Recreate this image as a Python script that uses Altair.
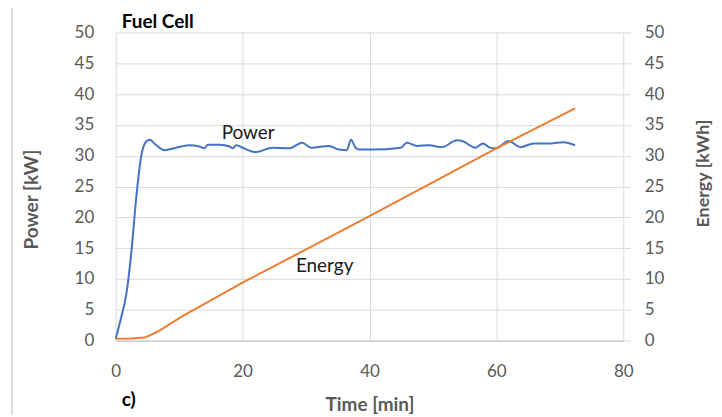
import altair as alt
import pandas as pd

# Power [kW] vs time [min]
power_t = [0, 0.8, 1.7, 2.5, 3.2, 4.0, 4.8, 5.4, 6.1, 7.7, 9.5, 11.6, 13.2, 14.0, 14.5,
           16.3, 18.0, 18.4, 19.0, 20.0, 22.1, 24.7, 27.3, 29.4, 30.8, 33.6, 35.2, 36.4,
           37.1, 37.8, 38.4, 40.4, 44.9, 45.9, 47.5, 49.4, 51.4, 53.8, 54.6, 56.7, 57.9,
           58.8, 59.9, 61.9, 63.8, 65.9, 68.5, 70.6, 72.4]
power_kw = [0.3, 3.5, 7.7, 14.7, 22.8, 29.8, 32.3, 32.6, 32.0, 30.9, 31.3, 31.7, 31.5, 31.2, 31.8,
            31.8, 31.5, 31.2, 31.7, 31.3, 30.6, 31.3, 31.2, 32.1, 31.3, 31.6, 31.0, 30.9,
            32.6, 31.3, 31.0, 31.0, 31.3, 32.1, 31.6, 31.7, 31.4, 32.5, 32.4, 31.3, 32.0,
            31.4, 31.2, 32.4, 31.4, 32.0, 32.0, 32.2, 31.7]

# Energy [kWh] vs time [min]
energy_t = [0, 2.5, 4.6, 6.5, 10.6, 20, 40, 60, 72.4]
energy_kwh = [0.3, 0.35, 0.5, 1.4, 4.0, 9.4, 20.2, 31.2, 37.7]

x_ticks = [0, 20, 40, 60, 80]
y_ticks = [0, 5, 10, 15, 20, 25, 30, 35, 40, 45, 50]

labels_text = ["Power", "Energy"]
labels_t = [16.7, 28.4]
labels_y = [32.7, 11.2]

pdf = pd.DataFrame({"t": power_t, "P": power_kw})
edf = pd.DataFrame({"t": energy_t, "E": energy_kwh})
ldf = pd.DataFrame({"s": labels_text, "t": labels_t, "y": labels_y})

FONT = "Lato"
GRAY = "#595959"
GRID = "#D9D9D9"

xscale = alt.Scale(domain=[0, 80], nice=False)
yscale = alt.Scale(domain=[0, 50], nice=False)

x_axis = alt.Axis(values=x_ticks, grid=True, gridColor=GRID, domainColor="#BFBFBF",
                  ticks=False, tickSize=0, labelFont=FONT, labelFontSize=17,
                  labelColor=GRAY, labelPadding=23, labelFlush=False,
                  labelOverlap=False, title="Time [min]",
                  titleFont=FONT, titleFontSize=19, titleFontWeight="bold",
                  titleColor=GRAY, titleY=70, titleBaseline="alphabetic")

left_axis = alt.Axis(values=y_ticks, grid=True, gridColor=GRID, domain=False,
                     ticks=False, tickSize=0, labelFont=FONT, labelFontSize=17,
                     labelColor=GRAY, labelPadding=22, labelFlush=False,
                     labelOverlap=False, labelBound=False, title="Power [kW]",
                     titleFont=FONT, titleFontSize=19, titleFontWeight="bold",
                     titleColor=GRAY, titleAngle=270, titleX=-84, titleY=167,
                     titleAlign="center", titleBaseline="middle")

right_axis = alt.Axis(values=y_ticks, orient="right", grid=False, domain=False,
                      ticks=True, tickSize=7, tickColor=GRID, labelFont=FONT,
                      labelFontSize=17, labelColor=GRAY, labelPadding=14,
                      labelFlush=False, labelOverlap=False,
                      title="Energy [kWh]", titleFont=FONT, titleFontSize=18,
                      titleFontWeight="bold", titleColor=GRAY, titleAngle=270,
                      titleX=80, titleY=141, titleAlign="center",
                      titleBaseline="middle")

power = alt.Chart(pdf).mark_line(color="#4472C4", strokeWidth=2,
                                 interpolate="monotone").encode(
    x=alt.X("t:Q", scale=xscale, axis=x_axis),
    y=alt.Y("P:Q", scale=yscale, axis=left_axis),
)

labels = alt.Chart(ldf).mark_text(font=FONT, fontSize=19, color="#1a1a1a",
                                  align="left", baseline="alphabetic").encode(
    x=alt.X("t:Q", scale=xscale, axis=x_axis),
    y=alt.Y("y:Q", scale=yscale, axis=left_axis),
    text="s:N",
)

title_txt = alt.Chart(pd.DataFrame({"s": ["Fuel Cell"]})).mark_text(
    font=FONT, fontSize=19, fontWeight="bold", color="black",
    align="left", baseline="alphabetic").encode(
    x=alt.value(6), y=alt.value(-5), text="s:N")

c_txt = alt.Chart(pd.DataFrame({"s": ["c)"]})).mark_text(
    font=FONT, fontSize=19, fontWeight="bold", color="black",
    align="left", baseline="alphabetic").encode(
    x=alt.value(6), y=alt.value(375), text="s:N")

border = alt.Chart(pd.DataFrame({"a": [0]})).mark_rule(
    color="#BFBFBF", strokeWidth=1).encode(
    x=alt.value(-104), y=alt.value(-40), y2=alt.value(400))

energy = alt.Chart(edf).mark_line(color="#ED7D31", strokeWidth=2).encode(
    x=alt.X("t:Q", scale=xscale, axis=x_axis),
    y=alt.Y("E:Q", scale=yscale, axis=right_axis),
)

left = alt.layer(power, labels, title_txt, c_txt, border)

chart = alt.layer(left, energy).resolve_scale(y="independent").properties(
    width=509, height=309,
    autosize=alt.AutoSizeParams(type="none"),
    padding={"left": 108, "top": 24, "right": 91, "bottom": 74},
    background="white",
).configure_view(stroke=None)

chart.save("out.html", embed_options={"renderer": "svg", "actions": False})
